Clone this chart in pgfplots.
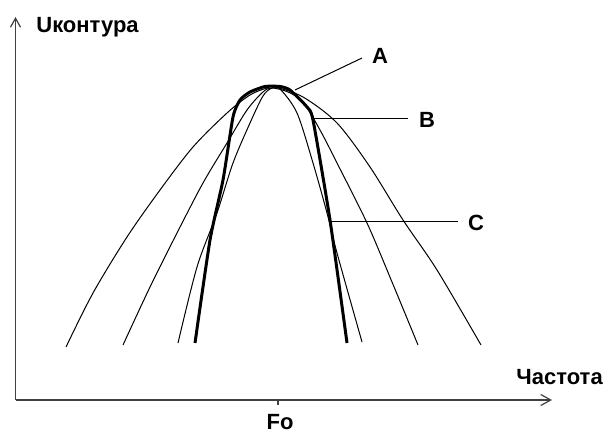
\documentclass[border=0pt]{standalone}
\usepackage{pgfplots}
\pgfplotsset{compat=1.18}
\usetikzlibrary{arrows.meta}
\usepackage{fontspec}
\setmainfont{Liberation Sans}
\begin{document}
\begin{tikzpicture}
\begin{axis}[
  x=0.5pt, y=0.5pt,
  xmin=15.5, xmax=552, ymin=32, ymax=415,
  axis lines=left,
  x axis line style={draw=black!75, line width=0.6pt, -{Straight Barb[length=5pt,width=5.5pt]}},
  y axis line style={draw=black!75, line width=0.6pt, -{Straight Barb[length=4.5pt,width=5pt]}},
  xtick={278}, xticklabels={}, ytick=\empty,
  tick align=outside, major tick length=2.5pt,
  tick style={draw=black!75, line width=0.6pt},
  clip=false,
  every axis plot/.append style={black},
  font=\fontsize{11}{13}\selectfont\bfseries,
]
% bounding frame of the whole picture (invisible)
\path (axis cs:0,0) rectangle (axis cs:608,432);
% widest curve
\addplot[line width=0.5pt, smooth] coordinates {
 (66,85) (93,139) (127,195) (160,242) (193,285) (227,319) (250,337) (267,344) (275,345)
 (303,335) (337,309) (370,265) (403,212) (437,162) (481,87)};
% second curve
\addplot[line width=0.5pt, smooth] coordinates {
 (123,87) (150,145) (177,199) (203,249) (227,289) (247,322) (263,340) (272,344)
 (288,340) (303,330) (320,302) (337,269) (367,209) (392,150) (418,87)};
% third curve
\addplot[line width=0.5pt, smooth] coordinates {
 (178,89) (197,165) (217,219) (233,269) (250,309) (263,336) (272,344) (280,343)
 (297,319) (313,269) (327,219) (337,179) (362,90)};
% bold curve
\addplot[line width=1.5pt, smooth, tension=0.35] coordinates {
 (195,89) (210,192) (223,252) (233,315) (240,332) (250,340) (265,345.5) (280,345.5)
 (290,342) (307,325) (313,312) (330,212) (347,89)};
% leader lines
\addplot[line width=0.5pt] coordinates {(295,342) (362,374)};
\addplot[line width=0.5pt] coordinates {(313,313) (408,313)};
\addplot[line width=0.5pt] coordinates {(330,210) (458,210)};
% labels
\node[anchor=base west, inner sep=0pt] at (axis cs:36,399) {Uконтура};
\node[anchor=base west, inner sep=0pt] at (axis cs:516,47) {Частота};
\node[anchor=base, inner sep=0pt] at (axis cs:280,3) {Fo};
\node[inner sep=0pt] at (axis cs:380,376.5) {A};
\node[inner sep=0pt] at (axis cs:427,312.5) {B};
\node[inner sep=0pt] at (axis cs:476,209.5) {C};
\end{axis}
\end{tikzpicture}
\end{document}
